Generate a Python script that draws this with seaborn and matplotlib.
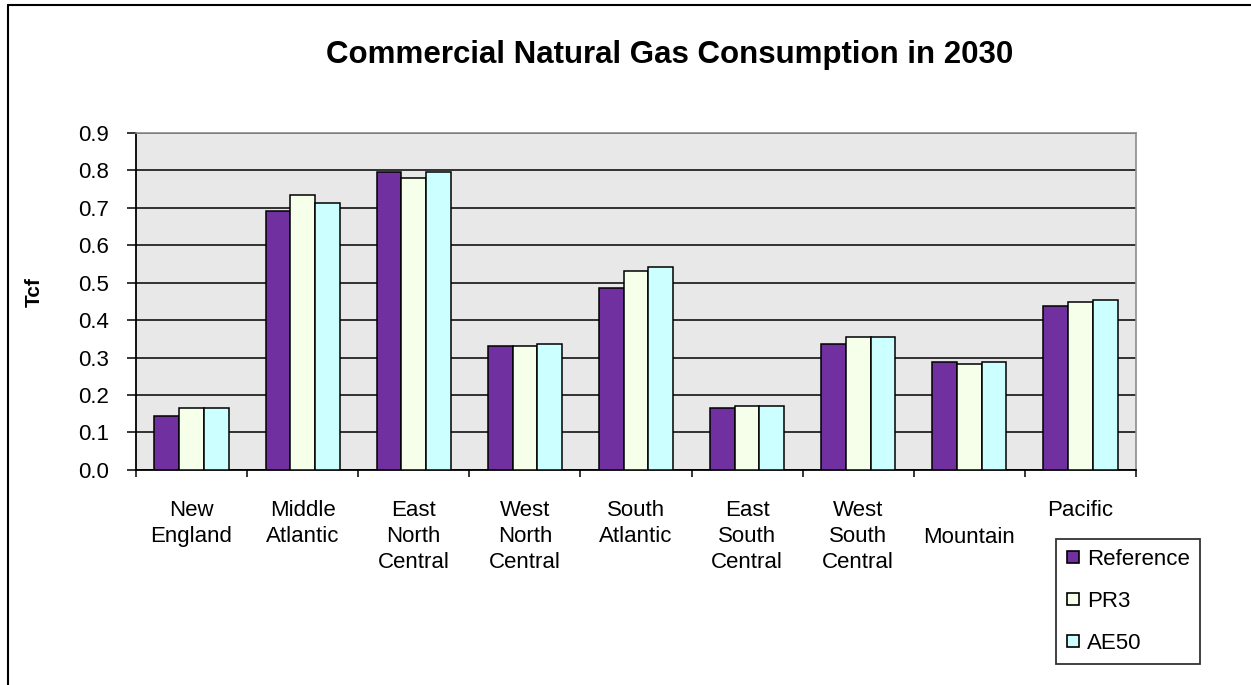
import numpy as np
import pandas as pd
import matplotlib
matplotlib.use('Agg')
import matplotlib.pyplot as plt
import matplotlib.transforms as mtransforms
import seaborn as sns
from matplotlib.lines import Line2D

# data (Tcf)
regions = ['New\nEngland', 'Middle\nAtlantic', 'East\nNorth\nCentral', 'West\nNorth\nCentral',
           'South\nAtlantic', 'East\nSouth\nCentral', 'West\nSouth\nCentral', 'Mountain', 'Pacific']
scenarios = ['Reference', 'PR3', 'AE50']
reference = [0.145, 0.692, 0.795, 0.330, 0.485, 0.165, 0.335, 0.289, 0.439]
pr3 = [0.165, 0.733, 0.780, 0.330, 0.532, 0.171, 0.356, 0.283, 0.449]
ae50 = [0.165, 0.713, 0.795, 0.335, 0.543, 0.171, 0.356, 0.289, 0.454]
colors = ['#7030A0', '#F5FFEA', '#CCFFFF']

df = pd.DataFrame({'region': regions * 3,
                   'scenario': np.repeat(scenarios, len(regions)),
                   'tcf': reference + pr3 + ae50})

sns.set_style('white')
plt.rcParams['font.family'] = ['Liberation Sans', 'DejaVu Sans']
plt.rcParams['text.color'] = 'black'
plt.rcParams['xtick.color'] = 'black'
plt.rcParams['ytick.color'] = 'black'

fig = plt.figure(figsize=(12.51, 6.85), dpi=100)
ax = fig.add_axes([0.1087, 0.314, 0.7994, 0.492])
ax.set_facecolor('#E8E8E8')

sns.barplot(data=df, x='region', y='tcf', hue='scenario', order=regions,
            hue_order=scenarios, palette=colors, width=0.667, saturation=1,
            edgecolor='black', linewidth=1.1, errorbar=None, legend=False, ax=ax, zorder=3)

ax.set_ylim(0, 0.9)
ax.set_xlim(-0.5, len(regions) - 0.5)
yt = np.arange(0, 0.91, 0.1)
ax.set_yticks(yt)
ax.set_yticklabels(['%.1f' % v for v in yt], fontsize=16)
ax.yaxis.grid(True, color='black', linewidth=1.1, zorder=0)
ax.set_axisbelow(True)

# ticks sit on the category boundaries, labels in between
ax.set_xticks(np.arange(-0.5, len(regions), 1.0))
ax.set_xticklabels([])
ax.set_xticks(np.arange(len(regions)), minor=True)
ax.set_xticklabels(regions, minor=True, fontsize=16, linespacing=1.3)
ax.tick_params(axis='x', which='major', length=5, width=1.1, direction='out', bottom=True)
ax.tick_params(axis='x', which='minor', length=0, pad=22)
ax.tick_params(axis='y', length=6.5, width=1.1, direction='out', left=True, pad=13)

# "Mountain" sits one line lower in the original
for lab in ax.get_xticklabels(minor=True):
    if lab.get_text() == 'Mountain':
        lab.set_transform(lab.get_transform() +
                          mtransforms.ScaledTranslation(0, -27 / 100, fig.dpi_scale_trans))

for s in ['left', 'bottom']:
    ax.spines[s].set_color('black')
    ax.spines[s].set_linewidth(1.3)
for s in ['top', 'right']:
    ax.spines[s].set_color('#8C8C8C')
    ax.spines[s].set_linewidth(1.2)

ax.set_xlabel('')
ax.set_ylabel('')
fig.text(34 / 1251, 0.574, 'Tcf', rotation=90, ha='center', va='center',
         fontsize=15, fontweight='bold')

fig.text(0.5356, 0.92, 'Commercial Natural Gas Consumption in 2030',
         ha='center', va='center', fontsize=22.5, fontweight='bold')

handles = [Line2D([0], [0], marker='s', linestyle='none', markersize=8.5,
                  markerfacecolor=c, markeredgecolor='black', markeredgewidth=1.2)
           for c in colors]
leg = fig.legend(handles, scenarios, loc='lower left', bbox_to_anchor=(0.844, 0.031),
                 fontsize=16, frameon=True, fancybox=False, edgecolor='black',
                 handlelength=0.6, handletextpad=0.35, labelspacing=0.95,
                 borderpad=0.45, borderaxespad=0)
leg.get_frame().set_linewidth(1.3)

# outer chart border (top and left)
fig.add_artist(Line2D([0.0065, 0.0065], [0, 0.992], transform=fig.transFigure, color='black', linewidth=1.5))
fig.add_artist(Line2D([0.0065, 1.0], [0.992, 0.992], transform=fig.transFigure, color='black', linewidth=1.5))

fig.savefig('out.png', dpi=100)
